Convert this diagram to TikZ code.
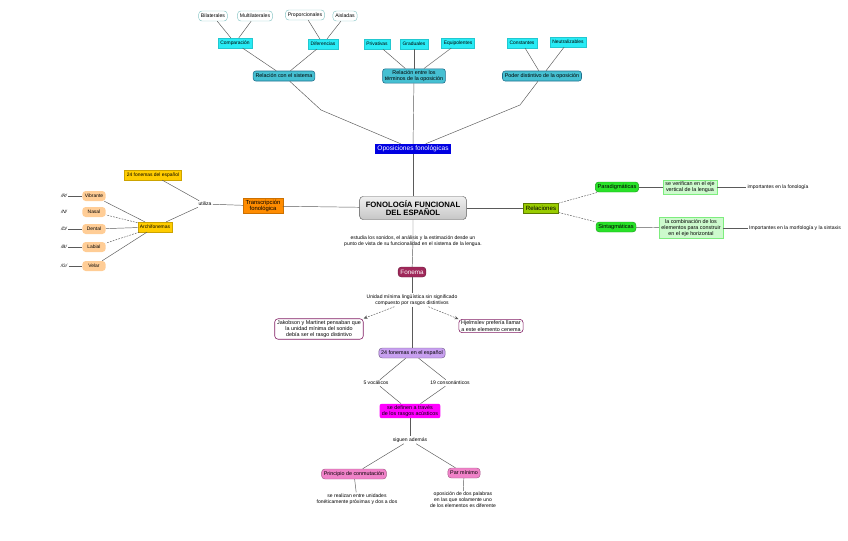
\documentclass[tikz,border=0pt]{standalone}
\usepackage{fontspec}
\setmainfont{Liberation Sans}
\usepackage{tikz}
\usetikzlibrary{arrows.meta,positioning}
\definecolor{linegray}{RGB}{90,90,90}
\definecolor{paleline}{RGB}{140,200,200}
\definecolor{cyanlt}{RGB}{40,235,245}
\definecolor{tealfill}{RGB}{70,192,210}
\definecolor{tealdark}{RGB}{30,110,140}
\definecolor{deepblue}{RGB}{0,0,225}
\definecolor{maroon}{RGB}{160,40,90}
\definecolor{orangebox}{RGB}{255,140,0}
\definecolor{yellowbox}{RGB}{255,204,0}
\definecolor{peach}{RGB}{255,205,150}
\definecolor{olivegreen}{RGB}{153,204,0}
\definecolor{brightgreen}{RGB}{40,225,40}
\definecolor{palegreen}{RGB}{205,250,205}
\definecolor{plumline}{RGB}{130,30,100}
\definecolor{lavender}{RGB}{200,160,240}
\definecolor{magentabox}{RGB}{255,0,255}
\definecolor{pinkbox}{RGB}{240,130,200}
\tikzset{
  mapbox/.style={rectangle, rounded corners=0.5mm, align=center,
                 font=\fontsize{4.6}{5.3}\selectfont, inner xsep=2pt, inner ysep=1.3pt,
                 minimum height=3mm},
  whitebox/.style={mapbox, draw=paleline, fill=white, rounded corners=1mm,
                   font=\fontsize{4.4}{5}\selectfont},
  cyanbox/.style={mapbox, fill=cyanlt, draw=cyanlt!85!black, line width=0.2pt, rounded corners=0pt,
                  font=\fontsize{4.2}{4.9}\selectfont},
  tealbox/.style={mapbox, fill=tealfill, draw=tealdark, line width=0.5pt, rounded corners=0.8mm},
  bluebox/.style={mapbox, fill=deepblue, text=white, rounded corners=0pt,
                  font=\fontsize{5.6}{6.4}\selectfont},
  graybox/.style={mapbox, top color=gray!12, bottom color=gray!45, draw=gray!70!black,
                  rounded corners=1mm, font=\fontsize{6.6}{7.2}\selectfont\bfseries,
                  minimum width=32mm, minimum height=6.9mm},
  maroonbox/.style={mapbox, fill=maroon, draw=maroon!70!black, text=white, rounded corners=1mm,
                    font=\fontsize{5.4}{6.2}\selectfont},
  orangetile/.style={mapbox, fill=orangebox, draw=orangebox!80!black, line width=0.2pt,
                     rounded corners=0pt, font=\fontsize{5}{5.6}\selectfont},
  yellowtile/.style={mapbox, fill=yellowbox, draw=yellowbox!80!black, line width=0.2pt,
                     rounded corners=0pt, font=\fontsize{4.2}{4.9}\selectfont},
  peachbox/.style={mapbox, fill=peach, rounded corners=1mm, minimum width=7mm,
                   font=\fontsize{4.2}{4.9}\selectfont},
  olivebox/.style={mapbox, fill=olivegreen, draw=olivegreen!60!black, rounded corners=0pt,
                   font=\fontsize{5.2}{6}\selectfont},
  greenbox/.style={mapbox, fill=brightgreen, draw=brightgreen!70!black, rounded corners=1mm,
                   font=\fontsize{4.8}{5.5}\selectfont},
  palebox/.style={mapbox, fill=palegreen, draw=brightgreen!60, line width=0.4pt, rounded corners=0pt},
  plumbox/.style={mapbox, fill=white, draw=plumline, line width=0.5pt, rounded corners=1mm},
  lavbox/.style={mapbox, fill=lavender, draw=lavender!60!black, rounded corners=1mm},
  magbox/.style={mapbox, fill=magentabox, rounded corners=0.6mm},
  pinkbox/.style={mapbox, fill=pinkbox, draw=pinkbox!70!black, rounded corners=1mm},
  plaintext/.style={align=center, font=\fontsize{4.3}{5}\selectfont, inner sep=1pt},
  tinytext/.style={align=center, font=\fontsize{4.3}{4.9}\selectfont, inner sep=1pt},
  link/.style={draw=linegray, line width=0.4pt},
  dlink/.style={link, dashed, dash pattern=on 1.5pt off 1pt},
  arrlink/.style={dlink, -{Stealth[length=1.2mm, width=1mm]}},
}
\begin{document}
\begin{tikzpicture}[x=0.3mm, y=-0.3mm]
  \useasboundingbox (0,0) rectangle (848,541);
  % oposiciones: top branches
  \node[whitebox] (bilat) at (213,16) {Bilaterales};
  \node[whitebox] (multi) at (255,16) {Multilaterales};
  \node[whitebox] (propor) at (305,15) {Proporcionales};
  \node[whitebox] (aisl) at (345,16) {Aisladas};
  \node[cyanbox] (compar) at (235,43) {Comparación};
  \node[cyanbox] (difer) at (323,44) {Diferencias};
  \node[tealbox] (sistema) at (284,76) {Relación con el sistema};
  \node[cyanbox] (priv) at (377,44) {Privativas};
  \node[cyanbox] (grad) at (414,44) {Graduales};
  \node[cyanbox] (equip) at (458,43) {Equipolentes};
  \node[tealbox] (terminos) at (414,76) {Relación entre los\\términos de la oposición};
  \node[cyanbox] (const) at (522,43) {Constantes};
  \node[cyanbox] (neutr) at (568,42) {Neutralizables};
  \node[tealbox] (poder) at (542,76) {Poder distintivo de la oposición};
  \node[bluebox] (oposic) at (413,149) {Oposiciones fonológicas};
  \coordinate (bendL) at (321,110);
  \coordinate (bendR) at (520,105);
  \foreach \a/\b in {bilat/compar, multi/compar, propor/difer, aisl/difer,
                     compar/sistema, difer/sistema, priv/terminos, grad/terminos,
                     equip/terminos, const/poder, neutr/poder, terminos/oposic}
    \draw[link] (\a) -- (\b);
  \draw[link] (sistema) -- (bendL) -- (oposic);
  \draw[link] (poder) -- (bendR) -- (oposic);

  % centre
  \node[graybox] (fonol) at (413,208) {FONOLOGÍA FUNCIONAL\\DEL ESPAÑOL};
  \node[tinytext] (estudia) at (413,241) {estudia los sonidos, el análisis y la estimación desde un\\punto de vista de su funcionalidad en el sistema de la lengua.};
  \node[maroonbox] (fonema) at (412,272) {Fonema};
  \draw[link] (oposic) -- (fonol);
  \draw[link] (fonol) -- (estudia.center) -- (fonema);

  % left: transcripcion
  \node[orangetile] (transc) at (263,206) {Transcripción\\fonológica};
  \node[plaintext] (utiliza) at (205,204) {utiliza};
  \node[yellowtile] (fon24) at (153,175) {24 fonemas del español};
  \node[yellowtile] (archi) at (155,227) {Archifonemas};
  \draw[link] (fonol) -- (transc);
  \draw[link] (transc) -- (utiliza);
  \draw[link] (utiliza) -- (fon24);
  \draw[link] (utiliza) -- (archi);
  \foreach \n/\t/\y/\s in {vib/Vibrante/196/link, nas/Nasal/212/dlink, den/Dental/229/link,
                           lab/Labial/247/dlink, vel/Velar/266/link} {
    \node[peachbox] (\n) at (94,\y) {\t};
    \draw[\s] (archi) -- (\n);
  }
  \foreach \n/\t/\y in {sR/R/196, sN/N/212, sD/D/229, sB/B/247, sG/G/266}
    \node[plaintext, font=\fontsize{4}{4.8}\selectfont\itshape] (\n) at (64,\y) {/\t/};
  \foreach \a/\b in {sR/vib, sD/den, sB/lab, sG/vel}
    \draw[link] (\a) -- (\b);

  % right: relaciones
  \node[olivebox] (relac) at (541,208) {Relaciones};
  \node[greenbox] (parad) at (617,187) {Paradigmáticas};
  \node[greenbox] (sintag) at (616,227) {Sintagmáticas};
  \node[palebox] (verif) at (690,187) {se verifican en el eje\\vertical de la lengua};
  \node[palebox] (combin) at (691,228) {la combinación de los\\elementos para construir\\en el eje horizontal};
  \node[plaintext] (impfon) at (778,187) {importantes en la fonología};
  \node[plaintext] (impmor) at (795,228) {Importantes en la morfología y la sintaxis};
  \draw[link] (fonol) -- (relac);
  \draw[dlink] (relac) -- (parad);
  \draw[dlink] (relac) -- (sintag);
  \draw[link] (parad) -- (verif);
  \draw[link] (verif) -- (impfon);
  \draw[link] (sintag) -- (combin);
  \draw[link] (combin) -- (impmor);

  % bottom: fonema
  \node[plaintext] (unidad) at (412,300) {Unidad mínima lingüística sin significado\\compuesto por rasgos distintivos};
  \node[plumbox] (jakob) at (319,329) {Jakobson y Martinet pensaban que\\la unidad mínima del sonido\\debía ser el rasgo distintivo};
  \node[plumbox] (hjelm) at (491,326) {Hjelmslev prefería llamar\\a este elemento cenema};
  \node[lavbox] (fon24esp) at (412,353) {24 fonemas en el español};
  \node[plaintext] (vocal) at (376,383) {5 vocálicos};
  \node[plaintext] (conso) at (450,383) {19 consonánticos};
  \node[magbox] (definen) at (410,411) {se definen a través\\de los rasgos acústicos};
  \node[plaintext] (siguen) at (410,440) {siguen además};
  \node[pinkbox] (princ) at (354,474) {Principio de conmutación};
  \node[pinkbox] (parmin) at (464,473) {Par mínimo};
  \node[plaintext] (realizan) at (357,499) {se realizan entre unidades\\fonéticamente próximas y dos a dos};
  \node[plaintext] (oposdos) at (463,500) {oposición de dos palabras\\en las que solamente uno\\de los elementos es diferente};
  \draw[link] (fonema) -- (unidad);
  \draw[arrlink] (unidad) -- (jakob.north east);
  \draw[arrlink] (unidad) -- (hjelm.north west);
  \foreach \a/\b in {unidad/fon24esp, fon24esp/vocal, fon24esp/conso, vocal/definen,
                     conso/definen, definen/siguen, siguen/princ, siguen/parmin,
                     princ/realizan, parmin/oposdos}
    \draw[link] (\a) -- (\b);
\end{tikzpicture}
\end{document}
